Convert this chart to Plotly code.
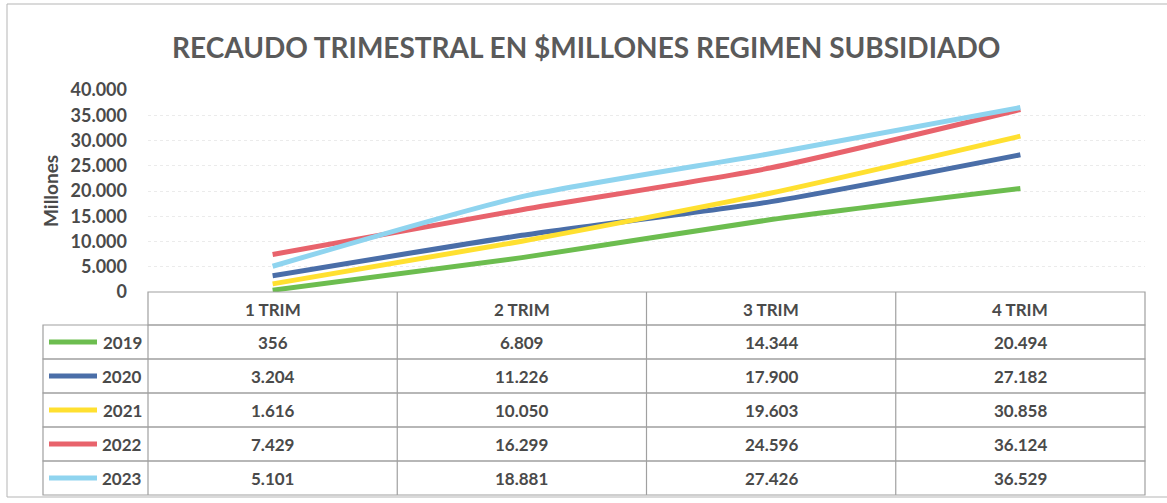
import plotly.graph_objects as go

categories = ["1 TRIM", "2 TRIM", "3 TRIM", "4 TRIM"]
years = ["2019", "2020", "2021", "2022", "2023"]
v2019 = [356, 6809, 14344, 20494]
v2020 = [3204, 11226, 17900, 27182]
v2021 = [1616, 10050, 19603, 30858]
v2022 = [7429, 16299, 24596, 36124]
v2023 = [5101, 18881, 27426, 36529]
series = [v2019, v2020, v2021, v2022, v2023]
colors = ["#6cbd4f", "#4a6ea8", "#ffe030", "#e8636c", "#8fd4ef"]

W, H = 1167, 503
L, R, T, B = 148, 1145, 90, 292
FONT = "Lato"
TXT = "#4a4a4a"

def px(x):
    return (x - L) / (R - L)

def py(y):
    return (B - y) / (B - T)

def fmt(v):
    return f"{v:,}".replace(",", ".")

fig = go.Figure()
for name, vals, c in zip(years, series, colors):
    fig.add_trace(go.Scatter(x=categories, y=vals, mode="lines", name=name,
                             line=dict(color=c, width=5, shape="spline", smoothing=0.6),
                             showlegend=False, hoverinfo="skip"))

shapes = []
annotations = []
# outer border
shapes.append(dict(type="rect", xref="paper", yref="paper", x0=px(7), x1=px(1175), y0=py(497), y1=py(4),
                   line=dict(color="#b5b5b5", width=1)))

col_edges = [L + i * (R - L) / 4 for i in range(5)]
header_top, header_bot = 292, 325
row_h = 34
leg_left = 43
line_col = "#a0a0a0"
tbl_bot = header_bot + 5 * row_h
shapes.append(dict(type="rect", xref="paper", yref="paper", x0=px(L), x1=px(R), y0=py(header_bot), y1=py(header_top),
                   line=dict(color=line_col, width=1.2)))
for e in col_edges[1:-1]:
    shapes.append(dict(type="line", xref="paper", yref="paper", x0=px(e), x1=px(e), y0=py(tbl_bot), y1=py(header_top),
                       line=dict(color=line_col, width=1.2)))
for i, cat in enumerate(categories):
    annotations.append(dict(x=px((col_edges[i] + col_edges[i + 1]) / 2), y=py((header_top + header_bot) / 2 + 1),
                            xref="paper", yref="paper", text=f"<b>{cat}</b>", showarrow=False,
                            xanchor="center", yanchor="middle",
                            font=dict(family=FONT, size=17, color=TXT)))
for r, (name, vals, c) in enumerate(zip(years, series, colors)):
    top = header_bot + r * row_h
    bot = top + row_h
    mid = (top + bot) / 2
    shapes.append(dict(type="rect", xref="paper", yref="paper", x0=px(leg_left), x1=px(R), y0=py(bot), y1=py(top),
                       line=dict(color=line_col, width=1.2)))
    shapes.append(dict(type="line", xref="paper", yref="paper", x0=px(L), x1=px(L), y0=py(bot), y1=py(top),
                       line=dict(color=line_col, width=1.2)))
    shapes.append(dict(type="line", xref="paper", yref="paper", x0=px(49), x1=px(97), y0=py(mid), y1=py(mid),
                       line=dict(color=c, width=5)))
    annotations.append(dict(x=px(144), y=py(mid), xref="paper", yref="paper", text=f"<b>{name}</b>",
                            showarrow=False, xanchor="right", yanchor="middle",
                            font=dict(family=FONT, size=17, color=TXT)))
    for i, v in enumerate(vals):
        annotations.append(dict(x=px((col_edges[i] + col_edges[i + 1]) / 2), y=py(mid), xref="paper", yref="paper",
                                text=f"<b>{fmt(v)}</b>", showarrow=False, xanchor="center", yanchor="middle",
                                font=dict(family=FONT, size=17, color=TXT)))

annotations.append(dict(x=px(586), y=py(47), xref="paper", yref="paper",
                        text="<b>RECAUDO TRIMESTRAL EN $MILLONES REGIMEN SUBSIDIADO</b>", showarrow=False,
                        xanchor="center", yanchor="middle",
                        font=dict(family=FONT, size=28, color="#5a5a5a")))
annotations.append(dict(x=px(50), y=py(191), xref="paper", yref="paper", text="<b>Millones</b>",
                        showarrow=False, textangle=-90, xanchor="center", yanchor="middle",
                        font=dict(family=FONT, size=19, color=TXT)))

fig.update_layout(
    width=W, height=H,
    margin=dict(l=L, r=W - R, t=T, b=H - B),
    paper_bgcolor="white", plot_bgcolor="white",
    separators=",.",
    hovermode=False,
    shapes=shapes, annotations=annotations,
    xaxis=dict(type="category", range=[-0.5, 3.5], showticklabels=False, showgrid=False,
               zeroline=False, showline=False, ticks=""),
    yaxis=dict(range=[0, 40000], dtick=5000, tickformat=",d", showgrid=True, gridcolor="#ebebeb",
               griddash="dot", zeroline=False, showline=False, ticks="",
               tickfont=dict(family=FONT, size=18, color=TXT, weight="bold"), ticklabelstandoff=20),
)

fig.write_html("out.html", config={"displayModeBar": False},
               post_script="document.body.style.margin='0px';")
